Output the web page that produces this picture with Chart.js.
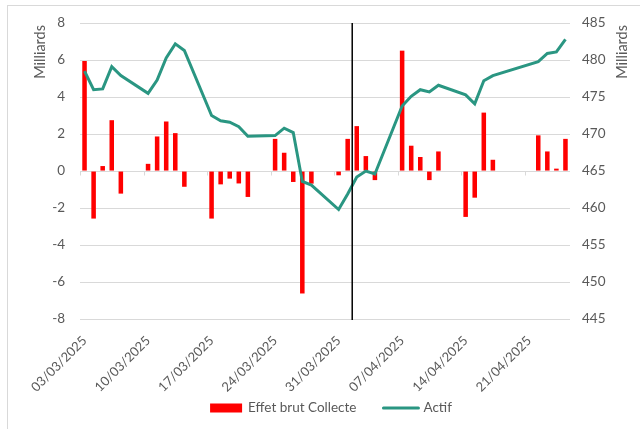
<!DOCTYPE html>
<html>
<head>
<meta charset="utf-8">
<script src="https://cdn.jsdelivr.net/npm/chart.js@4.4.1/dist/chart.umd.min.js"></script>
<style>
  body { margin: 0; background: #fff; }
  canvas { display: block; }
</style>
</head>
<body>
<canvas id="c" width="640" height="429"></canvas>
<script>
// categories: every day from 03/03 to 25/04
var dates = [
  '03/03/2025','04/03/2025','05/03/2025','06/03/2025','07/03/2025','08/03/2025','09/03/2025',
  '10/03/2025','11/03/2025','12/03/2025','13/03/2025','14/03/2025','15/03/2025','16/03/2025',
  '17/03/2025','18/03/2025','19/03/2025','20/03/2025','21/03/2025','22/03/2025','23/03/2025',
  '24/03/2025','25/03/2025','26/03/2025','27/03/2025','28/03/2025','29/03/2025','30/03/2025',
  '31/03/2025','01/04/2025','02/04/2025','03/04/2025','04/04/2025','05/04/2025','06/04/2025',
  '07/04/2025','08/04/2025','09/04/2025','10/04/2025','11/04/2025','12/04/2025','13/04/2025',
  '14/04/2025','15/04/2025','16/04/2025','17/04/2025','18/04/2025','19/04/2025','20/04/2025',
  '21/04/2025','22/04/2025','23/04/2025','24/04/2025','25/04/2025'
];
// Effet brut Collecte (Milliards, left axis)
var collecte = [
  5.95, -2.57, 0.27, 2.75, -1.22, null, null,
  0.39, 1.87, 2.68, 2.05, -0.85, null, null,
  -2.57, -0.72, -0.41, -0.67, -1.40, null, null,
  1.74, 0.99, -0.59, -6.62, -0.68, null, null,
  -0.23, 1.74, 2.43, 0.81, -0.49, null, null,
  6.51, 1.37, 0.76, -0.49, 1.06, null, null,
  -2.48, -1.44, 3.16, 0.61, null, null, null,
  null, 1.93, 1.06, 0.13, 1.74
];
// Actif (Milliards, right axis)
var actif = [
  478.5, 476.0, 476.1, 479.1, 477.9, null, null,
  475.5, 477.3, 480.3, 482.2, 481.3, null, null,
  472.5, 471.8, 471.6, 471.0, 469.7, null, null,
  469.8, 470.8, 470.2, 463.6, 463.1, null, null,
  459.8, 461.9, 464.2, 465.0, 464.6, null, null,
  473.8, 475.1, 476.0, 475.7, 476.6, null, null,
  475.3, 474.1, 477.2, 477.9, null, null, null,
  null, 479.8, 480.9, 481.1, 482.8
];
// vertical marker sits between these two days
var markerFrom = '01/04/2025';
var markerTo = '02/04/2025';

var textColor = '#595959';
var gridColor = '#d9d9d9';
var lineColor = '#2A9682';
var barColor = '#FF0000';
var fontFam = 'Lato, "Open Sans", sans-serif';

var extras = {
  id: 'extras',
  afterDraw: function(chart) {
    var ctx = chart.ctx;
    var area = chart.chartArea;
    var xs = chart.scales.x;
    var yl = chart.scales.y;
    ctx.save();
    // outer frame
    ctx.strokeStyle = gridColor;
    ctx.lineWidth = 1;
    ctx.strokeRect(7.5, 5.5, 640, 430);
    // small week ticks on zero line
    var y0 = Math.round(yl.getPixelForValue(0)) + 0.5;
    var step = xs.getPixelForValue(1) - xs.getPixelForValue(0);
    ctx.beginPath();
    for (var i = 0; i < dates.length; i += 7) {
      var tx = Math.round(xs.getPixelForValue(i) - step / 2) + 0.5;
      ctx.moveTo(tx, y0);
      ctx.lineTo(tx, y0 + 4);
    }
    ctx.stroke();
    // vertical black line
    var mx = (xs.getPixelForValue(dates.indexOf(markerFrom)) + xs.getPixelForValue(dates.indexOf(markerTo))) / 2;
    ctx.strokeStyle = '#000';
    ctx.lineWidth = 1.5;
    ctx.beginPath();
    ctx.moveTo(mx, area.top);
    ctx.lineTo(mx, area.bottom + 1);
    ctx.stroke();
    // axis titles, both reading upward
    ctx.fillStyle = textColor;
    ctx.font = '14.5px ' + fontFam;
    ctx.textAlign = 'right';
    ctx.textBaseline = 'middle';
    [40, 622].forEach(function(x) {
      ctx.save();
      ctx.translate(x, 25);
      ctx.rotate(-Math.PI / 2);
      ctx.fillText('Milliards', 0, 0);
      ctx.restore();
    });
    // legend
    var ds = chart.data.datasets;
    ctx.font = '13.5px ' + fontFam;
    ctx.textAlign = 'left';
    var w1 = ctx.measureText(ds[0].label).width;
    var w2 = ctx.measureText(ds[1].label).width;
    var total = 32 + 6 + w1 + 27 + 35 + 5 + w2;
    var lx = 331 - total / 2;
    var ly = 408;
    ctx.fillStyle = barColor;
    ctx.fillRect(lx, ly - 4.5, 32, 9);
    ctx.fillStyle = textColor;
    ctx.fillText(ds[0].label, lx + 38, ly);
    lx += 38 + w1 + 27;
    ctx.strokeStyle = lineColor;
    ctx.lineWidth = 3;
    ctx.lineCap = 'round';
    ctx.beginPath();
    ctx.moveTo(lx, ly);
    ctx.lineTo(lx + 35, ly);
    ctx.stroke();
    ctx.fillText(ds[1].label, lx + 40, ly);
    ctx.restore();
  }
};

var chart = new Chart(document.getElementById('c'), {
  type: 'bar',
  data: {
    labels: dates,
    datasets: [{
      label: 'Effet brut Collecte',
      data: collecte,
      backgroundColor: barColor,
      borderWidth: 0,
      barPercentage: 0.5,
      categoryPercentage: 1,
      yAxisID: 'y',
      order: 2
    }, {
      type: 'line',
      label: 'Actif',
      data: actif,
      borderColor: lineColor,
      backgroundColor: lineColor,
      borderWidth: 3,
      pointRadius: 0,
      tension: 0,
      spanGaps: true,
      yAxisID: 'y1',
      order: 1
    }]
  },
  options: {
    responsive: false,
    animation: false,
    layout: { padding: { top: 16, bottom: 0 } },
    plugins: {
      tooltip: { enabled: false },
      legend: { display: false }
    },
    scales: {
      x: {
        grid: { display: false },
        border: { display: false },
        afterFit: function(s) { s.height = 110; },
        ticks: {
          color: textColor,
          font: { family: fontFam, size: 13 },
          autoSkip: false,
          minRotation: 45,
          maxRotation: 45,
          padding: 6,
          callback: function(v, i) {
            return i % 7 === 0 ? this.getLabelForValue(v) : null;
          }
        }
      },
      y: {
        position: 'left',
        min: -8,
        max: 8,
        ticks: { stepSize: 2, color: textColor, font: { family: fontFam, size: 13.5 }, padding: 15 },
        grid: { color: gridColor, drawTicks: false },
        border: { display: false },
        afterFit: function(s) { s.width = 80; }
      },
      y1: {
        position: 'right',
        min: 445,
        max: 485,
        ticks: { stepSize: 5, color: textColor, font: { family: fontFam, size: 13.5 }, padding: 12 },
        grid: { drawOnChartArea: false, drawTicks: false },
        border: { display: false },
        afterFit: function(s) { s.width = 70; }
      }
    }
  },
  plugins: [extras]
});
</script>
</body>
</html>
